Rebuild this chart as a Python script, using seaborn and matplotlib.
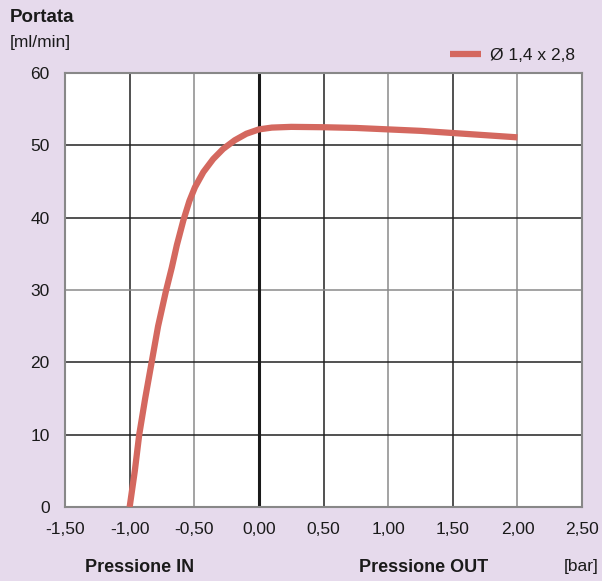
import matplotlib
matplotlib.use("Agg")
import matplotlib.pyplot as plt
import pandas as pd
import seaborn as sns

pressure = [-1.0, -0.96, -0.926, -0.88, -0.83, -0.78, -0.72, -0.674, -0.635,
            -0.585, -0.538, -0.495, -0.43, -0.354, -0.277, -0.187, -0.097,
            0.0, 0.1, 0.25, 0.5, 0.75, 1.0, 1.25, 1.5, 1.75, 2.0]
flow = [0, 5, 10, 15, 20, 25, 29.8, 33.1, 36.2,
        39.6, 42.3, 44.2, 46.3, 48.1, 49.5, 50.7, 51.6,
        52.2, 52.45, 52.55, 52.5, 52.4, 52.2, 52.0, 51.7, 51.4, 51.1]
series_name = "Ø 1,4 x 2,8"

x_ticks = [-1.5, -1.0, -0.5, 0.0, 0.5, 1.0, 1.5, 2.0, 2.5]
x_labels = ["-1,50", "-1,00", "-0,50", "0,00", "0,50", "1,00", "1,50", "2,00", "2,50"]
y_ticks = [0, 10, 20, 30, 40, 50, 60]

df = pd.DataFrame({"Pressione": pressure, "Portata": flow, "serie": series_name})

sns.set_style("white")
plt.rcParams["font.family"] = ["Liberation Sans", "DejaVu Sans"]

bg = "#E6DAEC"
dark = "#222222"
grey = "#8a8a8a"
fig = plt.figure(figsize=(6.02, 5.81), dpi=100, facecolor=bg)
ax = fig.add_axes([0.108, 0.1274, 0.859, 0.747])
ax.set_facecolor("white")

# grid lines, alternating dark / grey like the original
v_colors = [dark, grey, None, dark, grey, dark, grey]
for xv, c in zip(x_ticks[1:-1], v_colors):
    if c is not None:
        ax.axvline(xv, color=c, lw=1.1, zorder=1)
h_colors = [dark, dark, grey, dark, dark]
for yv, c in zip(y_ticks[1:-1], h_colors):
    ax.axhline(yv, color=c, lw=1.1, zorder=1)
ax.axvline(0, color="#1a1a1a", lw=2.2, zorder=2)

sns.lineplot(data=df, x="Pressione", y="Portata", hue="serie",
             palette=["#D4685F"], linewidth=4.5, ax=ax, zorder=3,
             solid_capstyle="butt", solid_joinstyle="round")

ax.set_xlim(-1.5, 2.5)
ax.set_ylim(0, 60)
ax.set_xticks(x_ticks)
ax.set_xticklabels(x_labels)
ax.set_yticks(y_ticks)
ax.tick_params(axis="both", direction="out", length=7, width=1.3,
               color="#777777", labelsize=12.5, labelcolor="#1a1a1a", pad=4)
for s in ax.spines.values():
    s.set_color("#888888")
    s.set_linewidth(1.5)
ax.set_xlabel("")
ax.set_ylabel("")

leg = ax.legend(loc="lower right", bbox_to_anchor=(1.005, 1.0), frameon=False,
                fontsize=12.5, handlelength=1.8, handletextpad=0.5,
                borderaxespad=0.15)
for t in leg.get_texts():
    t.set_color("#1a1a1a")

fig.text(10 / 602, 1 - 18 / 581, "Portata", fontsize=13.5, fontweight="bold",
         va="center", ha="left", color="#1a1a1a")
fig.text(10 / 602, 1 - 42 / 581, "[ml/min]", fontsize=12.5,
         va="center", ha="left", color="#1a1a1a")
fig.text(140 / 602, 1 - 567 / 581, "Pressione IN", fontsize=13, fontweight="bold",
         va="center", ha="center", color="#1a1a1a")
fig.text(424 / 602, 1 - 567 / 581, "Pressione OUT", fontsize=13, fontweight="bold",
         va="center", ha="center", color="#1a1a1a")
fig.text(599 / 602, 1 - 567 / 581, "[bar]", fontsize=12.5,
         va="center", ha="right", color="#1a1a1a")

fig.savefig("out.png", dpi=100, facecolor=bg)
